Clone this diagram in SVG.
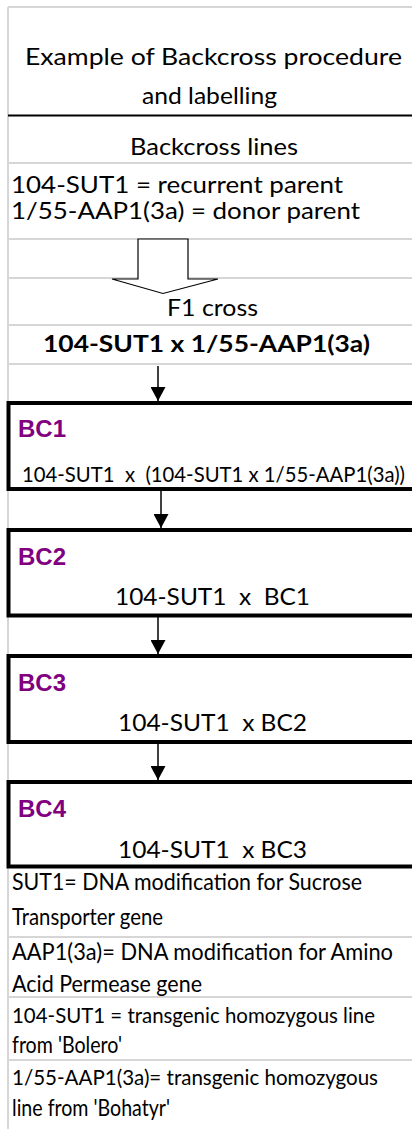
<svg xmlns="http://www.w3.org/2000/svg" width="412" height="1129" viewBox="0 0 412 1129">
  <style>
    .grid { stroke: #d6d6d6; stroke-width: 2; fill: none; }
    .rule { stroke: #000; stroke-width: 2; fill: none; }
    .t { font-family: Lato, "Liberation Sans", sans-serif; font-size: 23px; fill: #000; white-space: pre; }
    .sm { font-size: 20.5px; }
    .nt { font-size: 21.5px; }
    .b { font-weight: 700; }
    .bc { font-family: "Liberation Sans", Arial, sans-serif; font-weight: 700; font-size: 24px; fill: #800080; }
    .box { fill: #fff; stroke: #000; stroke-width: 4; }
    .link { stroke: #000; stroke-width: 1.5; fill: none; }
    .block { fill: #fff; stroke: #000; stroke-width: 1.2; stroke-linejoin: miter; }
  </style>
  <defs>
    <marker id="head" viewBox="0 0 10 10" refX="10" refY="5" markerUnits="userSpaceOnUse" markerWidth="14" markerHeight="15" orient="auto" preserveAspectRatio="none">
      <path d="M0,0 L10,5 L0,10 z" fill="#000"/>
    </marker>
  </defs>

  <rect width="412" height="1129" fill="#fff"/>

  <!-- sheet gridlines -->
  <g id="grid">
    <line class="grid" x1="8" y1="7" x2="8" y2="1129"/>
    <line class="grid" x1="8" y1="7" x2="412" y2="7"/>
    <line class="grid" x1="8" y1="163" x2="412" y2="163"/>
    <line class="grid" x1="8" y1="239" x2="412" y2="239"/>
    <line class="grid" x1="8" y1="278" x2="412" y2="278"/>
    <line class="grid" x1="8" y1="325" x2="412" y2="325"/>
    <line class="grid" x1="8" y1="364" x2="412" y2="364"/>
    <line class="grid" x1="8" y1="937" x2="412" y2="937"/>
    <line class="grid" x1="8" y1="997" x2="412" y2="997"/>
    <line class="grid" x1="8" y1="1060" x2="412" y2="1060"/>
    <line class="rule" x1="8" y1="115.5" x2="412" y2="115.5"/>
  </g>

  <g id="title">
    <text class="t" x="25" y="65" textLength="377" lengthAdjust="spacingAndGlyphs">Example of Backcross procedure</text>
    <text class="t" x="142" y="104" textLength="135" lengthAdjust="spacingAndGlyphs">and labelling</text>
  </g>

  <g id="lines">
    <text class="t" x="130" y="155" textLength="168" lengthAdjust="spacingAndGlyphs">Backcross lines</text>
    <text class="t" x="11" y="193" textLength="332" lengthAdjust="spacingAndGlyphs">104-SUT1 = recurrent parent</text>
    <text class="t" x="11" y="219" textLength="349" lengthAdjust="spacingAndGlyphs">1/55-AAP1(3a) = donor parent</text>
  </g>

  <!-- hollow block arrow into the F1 cross -->
  <g id="cross-arrow">
    <polygon class="block" points="138,239 188,239 188,279 218,279 163,293.5 112,279 138,279"/>
  </g>

  <g id="f1">
    <text class="t" x="167" y="316" textLength="91" lengthAdjust="spacingAndGlyphs">F1 cross</text>
    <text class="t b" x="43" y="352" textLength="327" lengthAdjust="spacingAndGlyphs">104-SUT1 x 1/55-AAP1(3a)</text>
  </g>

  <g id="bc1">
    <rect class="box" x="8.5" y="403" width="420" height="86"/>
    <text class="bc" x="18" y="437">BC1</text>
    <text class="t sm" x="22" y="482" textLength="383" lengthAdjust="spacingAndGlyphs">104-SUT1  x  (104-SUT1 x 1/55-AAP1(3a))</text>
  </g>

  <g id="bc2">
    <rect class="box" x="8.5" y="530" width="420" height="85.5"/>
    <text class="bc" x="18" y="565">BC2</text>
    <text class="t" x="115" y="605" textLength="195" lengthAdjust="spacingAndGlyphs">104-SUT1  x  BC1</text>
  </g>

  <g id="bc3">
    <rect class="box" x="8.5" y="656" width="420" height="86"/>
    <text class="bc" x="18" y="691">BC3</text>
    <text class="t" x="118" y="731" textLength="189" lengthAdjust="spacingAndGlyphs">104-SUT1  x BC2</text>
  </g>

  <g id="bc4">
    <rect class="box" x="8.5" y="782" width="420" height="84.5"/>
    <text class="bc" x="18" y="817">BC4</text>
    <text class="t" x="118" y="858" textLength="189" lengthAdjust="spacingAndGlyphs">104-SUT1  x BC3</text>
  </g>

  <g id="connectors">
    <line class="link" x1="158" y1="366" x2="158" y2="401" marker-end="url(#head)"/>
    <line class="link" x1="161" y1="491" x2="161" y2="528" marker-end="url(#head)"/>
    <line class="link" x1="158" y1="617" x2="158" y2="654" marker-end="url(#head)"/>
    <line class="link" x1="158" y1="744" x2="158" y2="780" marker-end="url(#head)"/>
  </g>

  <g id="notes">
    <text class="t" x="12" y="890" textLength="350" lengthAdjust="spacingAndGlyphs">SUT1= DNA modification for Sucrose</text>
    <text class="t" x="12" y="925" textLength="151" lengthAdjust="spacingAndGlyphs">Transporter gene</text>
    <text class="t" x="12" y="960" textLength="381" lengthAdjust="spacingAndGlyphs">AAP1(3a)= DNA modification for Amino</text>
    <text class="t" x="12" y="992" textLength="190" lengthAdjust="spacingAndGlyphs">Acid Permease gene</text>
    <text class="t nt" x="12" y="1023" textLength="363" lengthAdjust="spacingAndGlyphs">104-SUT1 = transgenic homozygous line</text>
    <text class="t" x="12" y="1053" textLength="110" lengthAdjust="spacingAndGlyphs">from 'Bolero'</text>
    <text class="t nt" x="12" y="1085" textLength="366" lengthAdjust="spacingAndGlyphs">1/55-AAP1(3a)= transgenic homozygous</text>
    <text class="t" x="12" y="1116" textLength="158" lengthAdjust="spacingAndGlyphs">line from 'Bohatyr'</text>
  </g>
</svg>
